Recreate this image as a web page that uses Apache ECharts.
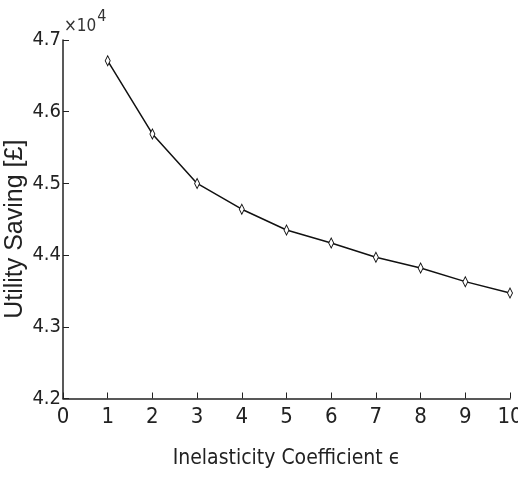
<!DOCTYPE html>
<html>
<head>
<meta charset="utf-8">
<script src="https://cdn.jsdelivr.net/npm/echarts@6/dist/echarts.min.js"></script>
<style>
  html, body { margin: 0; padding: 0; background: #fff; }
  #chart { width: 518px; height: 482px; }
</style>
</head>
<body>
<div id="chart"></div>
<script>
// Inelasticity coefficient values and the corresponding utility saving (£)
const epsilon = [1, 2, 3, 4, 5, 6, 7, 8, 9, 10];
const saving = [46710, 45690, 45000, 44640, 44350, 44170, 43970, 43820, 43630, 43470];
const xTicks = [0, 1, 2, 3, 4, 5, 6, 7, 8, 9, 10];
const yTicks = [4.2, 4.3, 4.4, 4.5, 4.6, 4.7];

const narrow = '"Liberation Sans Narrow", "DejaVu Sans Condensed", "Liberation Sans", Arial, sans-serif';
const regular = '"Liberation Sans", Arial, sans-serif';

const chart = echarts.init(document.getElementById('chart'), null, { renderer: 'canvas' });

chart.setOption({
  animation: false,
  backgroundColor: '#ffffff',
  grid: { left: 63, right: 8, top: 40, bottom: 83.5, containLabel: false, outerBoundsMode: 'none' },
  xAxis: {
    type: 'value',
    min: xTicks[0],
    max: xTicks[xTicks.length - 1],
    interval: 1,
    name: 'Inelasticity Coefficient \u03f5',
    nameLocation: 'middle',
    nameGap: 50,
    nameMoveOverlap: false,
    nameTextStyle: { fontFamily: narrow, fontSize: 21, color: '#222' },
    axisLine: { show: true, lineStyle: { color: '#222', width: 1.5 } },
    axisTick: { show: true, inside: true, length: 6, lineStyle: { color: '#222', width: 1 } },
    axisLabel: { fontFamily: narrow, fontSize: 22, color: '#222', margin: 8 },
    splitLine: { show: false }
  },
  yAxis: {
    type: 'value',
    min: yTicks[0] * 1e4,
    max: yTicks[yTicks.length - 1] * 1e4,
    interval: 1000,
    name: 'Utility Saving [\u00a3]',
    nameLocation: 'middle',
    nameGap: 35,
    nameRotate: 90,
    nameMoveOverlap: false,
    nameTextStyle: { fontFamily: regular, fontSize: 25, color: '#222', padding: [0, 20, 0, 0] },
    axisLine: { show: true, lineStyle: { color: '#222', width: 1.5 } },
    axisTick: { show: true, inside: true, length: 6, lineStyle: { color: '#222', width: 1 } },
    axisLabel: {
      fontFamily: narrow, fontSize: 20, color: '#222', margin: 2,
      formatter: v => (v / 1e4).toFixed(1)
    },
    splitLine: { show: false }
  },
  graphic: [{
    type: 'text',
    left: 64,
    top: 9,
    style: {
      text: '{a|\u00d710}{b|4}',
      rich: {
        a: { fontFamily: narrow, fontSize: 17, fill: '#333', verticalAlign: 'bottom', lineHeight: 26 },
        b: { fontFamily: narrow, fontSize: 16, fill: '#333', verticalAlign: 'top', lineHeight: 26, padding: [0, 0, 10, 1] }
      }
    }
  }],
  series: [{
    type: 'line',
    data: epsilon.map((e, i) => [e, saving[i]]),
    symbol: 'diamond',
    symbolSize: [5, 10],
    showSymbol: true,
    lineStyle: { color: '#111', width: 1.5 },
    itemStyle: { color: '#ffffff', borderColor: '#111', borderWidth: 1 }
  }]
});
</script>
</body>
</html>
